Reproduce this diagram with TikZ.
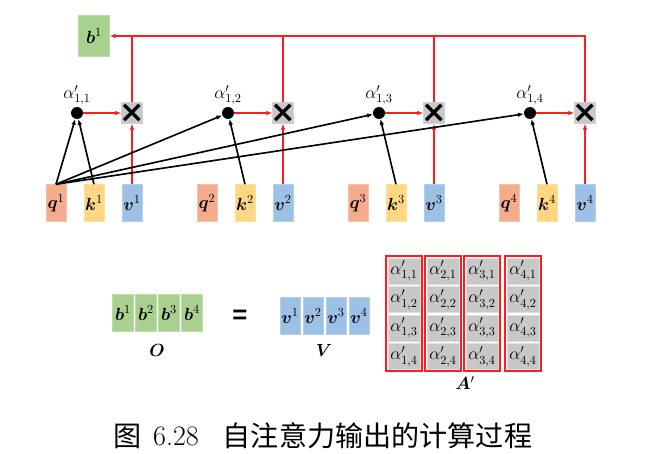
\RequirePackage{fix-cm}
\documentclass[tikz,border=0pt]{standalone}
\usepackage{amsmath,amssymb,bm}
\usepackage{fontspec}
\newfontfamily\cjk{Noto Sans CJK SC}
\newfontfamily\symfont{DejaVu Sans}
\usetikzlibrary{arrows.meta,fit,positioning}

\definecolor{qcol}{RGB}{245,172,140}
\definecolor{kcol}{RGB}{255,214,130}
\definecolor{vcol}{RGB}{157,192,230}
\definecolor{bcol}{RGB}{168,208,142}
\definecolor{gcol}{RGB}{200,200,200}
\definecolor{rcol}{RGB}{250,30,30}

\tikzset{
	vec/.style={draw=#1!75!white, fill=#1, minimum width=0.6cm, minimum height=1.11cm, inner sep=0pt, font=\fontsize{15}{17}\selectfont},
	adot/.style={circle, fill=black, inner sep=0pt, minimum size=0.36cm},
	alab/.style={font=\fontsize{15}{17}\selectfont, inner sep=1pt},
	mult/.style={fill=gcol, draw=gcol!80!white, minimum size=0.63cm, inner sep=0pt, font=\symfont\bfseries\fontsize{26}{26}\selectfont},
	cell/.style={fill=gcol, draw=gcol!60!white, minimum width=0.96cm, minimum height=0.78cm, inner sep=0pt, font=\fontsize{15}{17}\selectfont},
	colframe/.style={draw=rcol, line width=1.7pt, inner sep=1.2pt},
	karrow/.style={draw=black, line width=1.4pt, -{Latex[length=5pt,width=4pt]}},
	rarrow/.style={draw=rcol, line width=1.4pt, -{Latex[length=5pt,width=4pt]}},
	rline/.style={draw=rcol, line width=1.4pt},
	mlab/.style={font=\fontsize{15}{17}\selectfont},
	capfont/.style={font=\fontsize{24}{28}\selectfont, inner sep=0pt}
}

\begin{document}
\begin{tikzpicture}[x=0.03cm, y=-0.03cm]
	\useasboundingbox (0,0) rectangle (662,454);
	% queries, keys, values and weights
	\foreach \i in {1,...,4} {
		\pgfmathsetmacro{\xq}{56+151*(\i-1)}
		\node[vec=qcol] (q\i) at (\xq,203) {$\bm{q}^{\i}$};
		\node[vec=kcol] (k\i) at (\xq+38,203) {$\bm{k}^{\i}$};
		\node[vec=vcol] (v\i) at (\xq+76,203) {$\bm{v}^{\i}$};
		\node[adot, label={[alab]above:$\alpha'_{1,\i}$}] (d\i) at (\xq+21,113) {};
		\node[mult] (m\i) at (\xq+76,113) {\makebox[0pt]{×}};
	}
	\foreach \i in {1,...,4} {
		\draw[karrow] (q1.north) -- (d\i);
		\draw[karrow] (k\i.north) -- (d\i);
		\draw[rarrow] (d\i) -- (m\i);
		\draw[rarrow] (v\i) -- (m\i);
	}
	\node[vec=bcol, minimum width=0.93cm, minimum height=1.23cm] (b) at (94,36) {$\bm{b}^1$};
	\draw[rarrow] (m4.north) |- (b.east);
	\foreach \i in {1,2,3} \draw[rline] (m\i.north) -- (m\i.north |- b.east);

	% O = V A'
	\foreach \i in {1,...,4} {
		\node[vec=bcol, minimum width=0.63cm] (ob\i) at (100+23*\i,313) {$\bm{b}^{\i}$};
		\node[vec=vcol] (ov\i) at (267+23*\i,316) {$\bm{v}^{\i}$};
	}
	\node[mlab] (O) at (157,350) {$\bm{O}$};
	\node[font=\fontspec{Liberation Sans}\bfseries\fontsize{22}{22}\selectfont] (eq) at (240,317) {=};
	\node[mlab] (V) at (324,350) {$\bm{V}$};
	\foreach \c/\xc in {1/404,2/443,3/482,4/523} {
		\foreach \r in {1,...,4}
			\node[cell] (a\c\r) at (\xc,242.5+28.5*\r) {$\alpha'_{\c,\r}$};
		\node[colframe, fit=(a\c1)(a\c4)] (col\c) {};
	}
	\node[mlab] (A) at (465,383) {$\bm{A}'$};

	% caption
	\node[capfont] (fig) at (128,436) {\cjk 图};
	\node[capfont] (num) at (176,436) {6.28};
	\node[capfont] (cap) at (377.5,436) {\cjk 自注意力输出的计算过程};
\end{tikzpicture}
\end{document}
